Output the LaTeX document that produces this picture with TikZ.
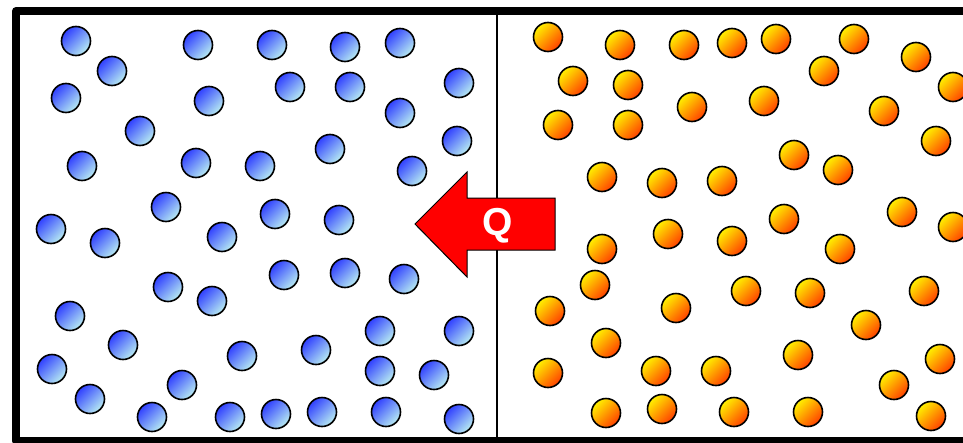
\documentclass[tikz,border=0pt]{standalone}
\usepackage[dvipsnames,svgnames,x11names]{xcolor}
\usepackage{fontspec}
\newfontfamily\arialfont{Liberation Sans}
\usepackage{tikz}
\usetikzlibrary{
  shapes.geometric, arrows.meta, positioning, calc
}
\definecolor{coldtop}{HTML}{3040FF}
\definecolor{coldbottom}{HTML}{B8ECF2}
\definecolor{hottop}{HTML}{FFF000}
\definecolor{hotbottom}{HTML}{FF4000}
\definecolor{heatred}{HTML}{FF0000}
\tikzset{
  % Gas particles
  particle/.style={
    circle, minimum size=29pt, inner sep=0pt, outer sep=0pt,
    draw=black, line width=1.6pt,
    top color=#1top, bottom color=#1bottom, shading angle=45,
  },
  particle/.default={cold},
  % Container walls
  wall/.style={draw=black, line width=8pt, line join=round},
  divider/.style={draw=black, line width=2pt},
  % Heat flow arrow
  heatarrow/.style={fill=heatred, draw=black, line width=1pt, line join=miter},
  heatlabel/.style={font=\arialfont\bfseries\fontsize{39}{42}\selectfont, text=white, inner sep=0pt},
}

\begin{document}
\begin{tikzpicture}[x=1pt, y=-1pt]
  \useasboundingbox (0,0) rectangle (963,442);
  \clip (0,0) rectangle (963,442);

  % Container
  \draw[wall] (16,11) rectangle (1000,441);
  \coordinate (midtop) at (496.5,11);
  \coordinate (midbot) at (496.5,441);
  \draw[divider] (midtop) -- (midbot);

  % Cold side
  \foreach \x/\y [count=\i] in {
    76/41, 112/71, 66/98, 198/45, 209/101, 140/131, 272/45, 290/87,
    345/47, 350/87, 400/43, 400/113, 459/83, 457/141, 82/166, 196/163,
    260/166, 330/149, 412/171, 166/207, 275/214, 339/220, 51/229, 105/243,
    222/237, 168/287, 212/301, 284/275, 345/273, 404/279, 70/316, 123/345,
    242/356, 316/350, 380/331, 459/331, 52/369, 380/371, 434/375, 90/399,
    182/385, 152/417, 230/417, 276/414, 322/412, 386/412, 459/419}
    \node[particle] (cold-\i) at (\x,\y) {};

  % Hot side
  \foreach \x/\y [count=\i] in {
    548/37, 620/45, 684/45, 732/43, 776/39, 854/39, 916/57, 824/71,
    573/81, 628/85, 953/87, 558/125, 628/125, 692/107, 764/101, 884/111,
    936/141, 794/155, 838/170, 602/177, 662/183, 722/181, 784/219, 902/212,
    953/227, 668/234, 602/249, 732/241, 840/249, 595/285, 550/311, 676/308,
    746/291, 810/293, 924/291, 866/325, 606/343, 798/355, 940/359, 548/373,
    656/371, 716/371, 894/385, 606/413, 662/409, 734/412, 808/412, 931/416}
    \node[particle=hot] (hot-\i) at (\x,\y) {};

  % Heat flow
  \draw[heatarrow] (555,198) -- (467,198) -- (467,172) -- (415,224)
    -- (467,277) -- (467,250) -- (555,250) -- cycle;
  \node[heatlabel] (heat) at (498,226) {Q};

\end{tikzpicture}
\end{document}
